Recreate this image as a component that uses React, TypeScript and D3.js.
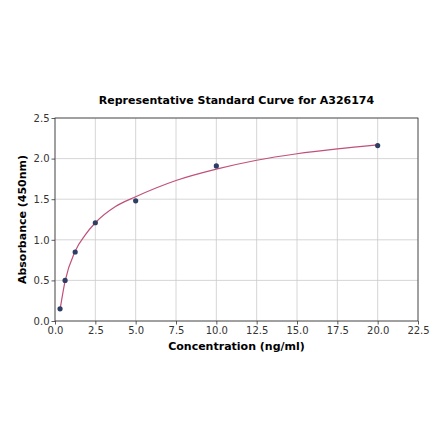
import { useEffect, useRef } from 'react';
import * as d3 from 'd3';

const conc = [0.3125, 0.625, 1.25, 2.5, 5, 10, 20];
const absorbance = [0.15, 0.5, 0.85, 1.21, 1.48, 1.91, 2.16];

// fitted curve
const curveX = [0.3125, 0.625, 1.25, 1.875, 2.5, 3.75, 5, 7.5, 10, 12.5, 15, 17.5, 20];
const curveY = [0.14, 0.49, 0.86, 1.06, 1.21, 1.41, 1.53, 1.73, 1.87, 1.98, 2.06, 2.12, 2.17];

const xTicks = [0, 2.5, 5, 7.5, 10, 12.5, 15, 17.5, 20, 22.5];
const yTicks = [0, 0.5, 1, 1.5, 2, 2.5];

const TITLE = 'Representative Standard Curve for A326174';
const X_LABEL = 'Concentration (ng/ml)';
const Y_LABEL = 'Absorbance (450nm)';

export default function App() {
    const svgRef = useRef<SVGSVGElement>(null);
    const width = 440;
    const height = 441;

    useEffect(() => {
        if (!svgRef.current) return;
        d3.select(svgRef.current).selectAll('*').remove();

        const margin = { top: 118, right: 22, bottom: 120, left: 55 };
        const innerWidth = width - margin.left - margin.right;
        const innerHeight = height - margin.top - margin.bottom;
        const font = 'DejaVu Sans, sans-serif';

        const svg = d3.select(svgRef.current)
            .append('g')
            .attr('transform', `translate(${margin.left}, ${margin.top})`);

        const x = d3.scaleLinear().domain([0, 22.5]).range([0, innerWidth]);
        const y = d3.scaleLinear().domain([0, 2.5]).range([innerHeight, 0]);

        // Grid
        svg.append('g')
            .selectAll('line')
            .data(xTicks)
            .enter()
            .append('line')
            .attr('x1', d => x(d)).attr('x2', d => x(d))
            .attr('y1', 0).attr('y2', innerHeight)
            .attr('stroke', '#cccccc').attr('stroke-width', 0.8);

        svg.append('g')
            .selectAll('line')
            .data(yTicks)
            .enter()
            .append('line')
            .attr('x1', 0).attr('x2', innerWidth)
            .attr('y1', d => y(d)).attr('y2', d => y(d))
            .attr('stroke', '#cccccc').attr('stroke-width', 0.8);

        // Axes
        const xAxis = svg.append('g')
            .attr('transform', `translate(0, ${innerHeight})`)
            .call(d3.axisBottom(x).tickValues(xTicks).tickFormat(d3.format('.1f')).tickSize(3.5).tickPadding(2));
        const yAxis = svg.append('g')
            .call(d3.axisLeft(y).tickValues(yTicks).tickFormat(d3.format('.1f')).tickSize(3.5).tickPadding(2));

        [xAxis, yAxis].forEach(a => {
            a.select('.domain').remove();
            a.selectAll('line').attr('stroke', '#333333').attr('stroke-width', 0.8);
            a.selectAll('text')
                .attr('fill', '#333333')
                .style('font-family', font)
                .style('font-size', '10px');
        });

        // Frame
        svg.append('rect')
            .attr('width', innerWidth)
            .attr('height', innerHeight)
            .attr('fill', 'none')
            .attr('stroke', '#333333')
            .attr('stroke-width', 0.8);

        // Curve
        const line = d3.line<number>()
            .x((d, i) => x(curveX[i]))
            .y(d => y(d))
            .curve(d3.curveMonotoneX);

        svg.append('path')
            .datum(curveY)
            .attr('fill', 'none')
            .attr('stroke', '#c0507a')
            .attr('stroke-width', 1.2)
            .attr('d', line);

        // Points
        svg.selectAll('.dot')
            .data(absorbance)
            .enter()
            .append('circle')
            .attr('cx', (d, i) => x(conc[i]))
            .attr('cy', d => y(d))
            .attr('r', 2.6)
            .attr('fill', '#2d3d63');

        // Labels
        svg.append('text')
            .attr('x', innerWidth / 2)
            .attr('y', -14)
            .attr('text-anchor', 'middle')
            .style('font-family', font)
            .style('font-size', '11px')
            .style('font-weight', 'bold')
            .text(TITLE);

        svg.append('text')
            .attr('x', innerWidth / 2)
            .attr('y', innerHeight + 29)
            .attr('text-anchor', 'middle')
            .style('font-family', font)
            .style('font-size', '11px')
            .style('font-weight', 'bold')
            .text(X_LABEL);

        svg.append('text')
            .attr('transform', `translate(${-29}, ${innerHeight / 2}) rotate(-90)`)
            .attr('text-anchor', 'middle')
            .style('font-family', font)
            .style('font-size', '11px')
            .style('font-weight', 'bold')
            .text(Y_LABEL);
    }, []);

    return (
        <div style={{ position: 'fixed', left: 0, top: 0, background: '#fff' }}>
            <svg ref={svgRef} width={width} height={height} style={{ display: 'block' }}></svg>
        </div>
    );
}
